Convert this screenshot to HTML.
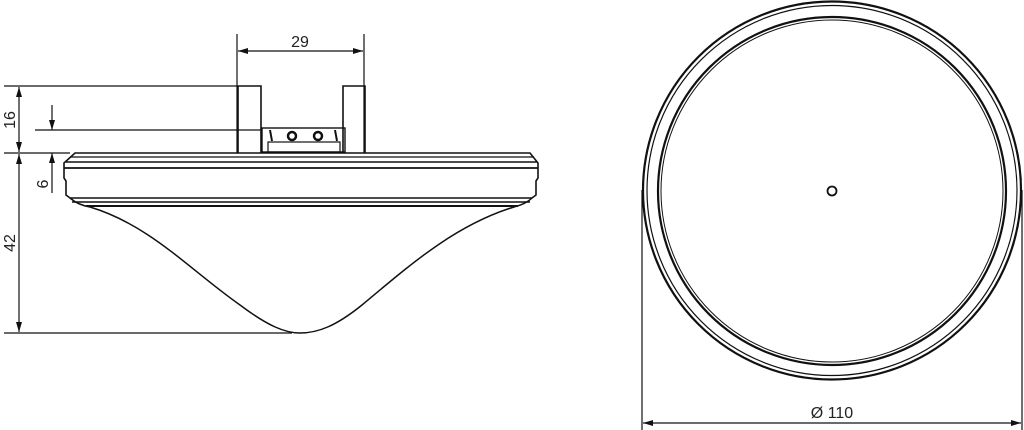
<!DOCTYPE html>
<html><head><style>body{margin:0;background:#fff}svg{display:block}</style></head><body>
<svg width="1024" height="430" viewBox="0 0 1024 430" xmlns="http://www.w3.org/2000/svg" font-family="Liberation Sans, sans-serif">
<defs><marker id="a" viewBox="0 0 10 6" refX="10" refY="3" markerWidth="10" markerHeight="6" orient="auto-start-reverse" markerUnits="userSpaceOnUse"><path d="M0,0L10,3L0,6z" fill="#111"/></marker></defs>
<g stroke="#111" fill="none" stroke-width="1.2">
<line x1="237" y1="34" x2="237" y2="153"/><line x1="364" y1="34" x2="364" y2="153"/>
<line x1="238" y1="51" x2="363" y2="51" marker-start="url(#a)" marker-end="url(#a)"/>
<path d="M238,153V86H261V153M343,153V86H365V153" stroke-width="1.6"/>
<rect x="262" y="128" width="83" height="24" stroke-width="1.4"/>
<rect x="268" y="142" width="72" height="10"/>
<circle cx="292" cy="136" r="4" stroke-width="2.5"/><circle cx="318" cy="136" r="4" stroke-width="2.5"/>
<line x1="270" y1="130" x2="272" y2="141" stroke-width="2"/><line x1="335" y1="130" x2="337" y2="141" stroke-width="2"/>
<line x1="4" y1="86" x2="238" y2="86"/>
<line x1="35" y1="130" x2="262" y2="130"/>
<line x1="4" y1="153" x2="70" y2="153"/>
<line x1="4" y1="333" x2="292" y2="333"/>
<line x1="19" y1="87" x2="19" y2="152" marker-start="url(#a)" marker-end="url(#a)"/>
<line x1="19" y1="154" x2="19" y2="332" marker-start="url(#a)" marker-end="url(#a)"/>
<line x1="52" y1="105" x2="52" y2="130" marker-end="url(#a)"/>
<line x1="52" y1="193" x2="52" y2="153" marker-end="url(#a)"/>
<path d="M75,153H530L538,163V178L536,181V195L532,198H70L66,195V181L64,178V163Z" stroke-width="1.6"/>
<line x1="70" y1="157" x2="534" y2="157"/>
<line x1="66" y1="162" x2="537" y2="162" stroke-width="1.4"/>
<line x1="64" y1="168" x2="538" y2="168" stroke-width="1.8"/>
<line x1="72" y1="202" x2="530" y2="202" stroke-width="1.4"/>
<line x1="86" y1="206" x2="518" y2="206" stroke-width="2"/>
<path d="M70,198Q78,205 90,207C150,225 190,270 240,305C268,326 285,333 300,333C318,333 336,326 362,305C410,265 455,225 514,207Q526,204 532,198" stroke-width="1.5"/>
<circle cx="832" cy="190.5" r="189" stroke-width="2.2"/>
<circle cx="832" cy="190.5" r="185" stroke-width="1.2"/>
<circle cx="832" cy="191" r="174" stroke-width="2.2"/>
<circle cx="832" cy="191" r="171" stroke-width="1"/>
<circle cx="832" cy="191" r="4.5" stroke-width="1.8"/>
<line x1="642" y1="190" x2="642" y2="430"/><line x1="1022" y1="190" x2="1022" y2="430"/>
<line x1="643" y1="423" x2="1021" y2="423" marker-start="url(#a)" marker-end="url(#a)"/>
</g>
<g fill="#222" font-size="16">
<text x="300" y="47" text-anchor="middle">29</text>
<text x="832" y="418" text-anchor="middle">Ø 110</text>
<text transform="translate(15,120) rotate(-90)" text-anchor="middle">16</text>
<text transform="translate(48,184) rotate(-90)" text-anchor="middle">6</text>
<text transform="translate(15,243) rotate(-90)" text-anchor="middle">42</text>
</g>
</svg>
</body></html>
